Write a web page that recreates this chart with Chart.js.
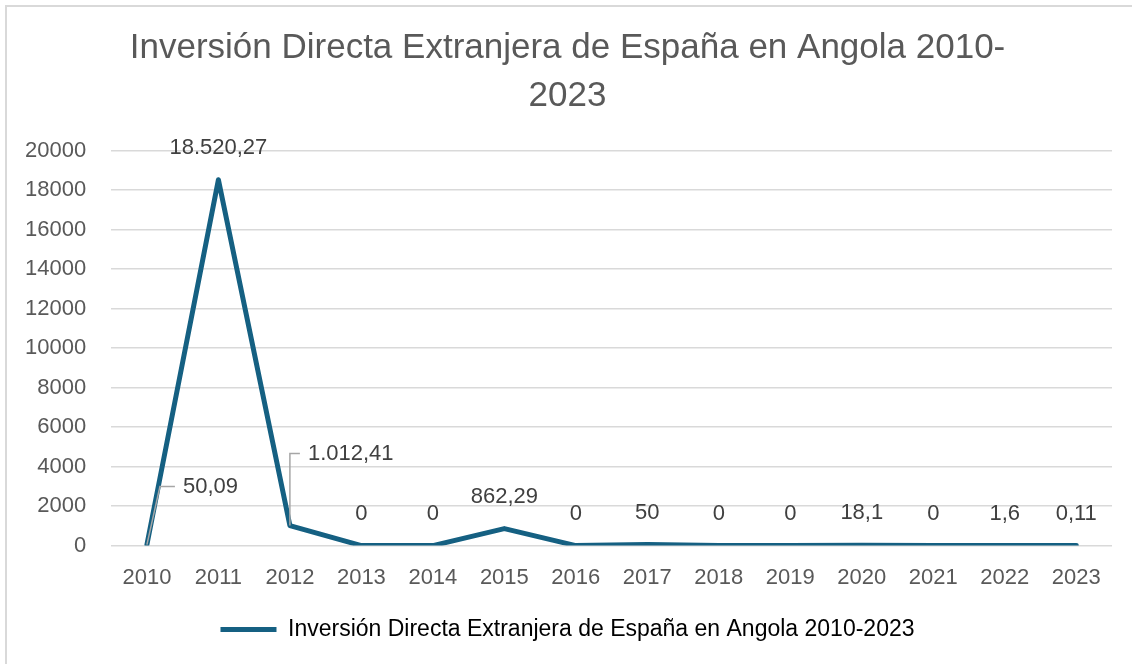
<!DOCTYPE html>
<html>
<head>
<meta charset="utf-8">
<script src="https://cdn.jsdelivr.net/npm/chart.js@4"></script>
<style>
  html, body { margin: 0; padding: 0; background: #fff; }
  #wrap { position: absolute; left: 5px; top: 5px; width: 1127px; height: 659px;
          border-left: 2px solid #d9d9d9; border-top: 2px solid #d9d9d9; box-sizing: border-box; }
  #chart { position: absolute; left: 0; top: 0; }
</style>
</head>
<body>
<div id="wrap"></div>
<canvas id="chart" width="1132" height="664"></canvas>
<script>
// Datos: IED de España en Angola (miles de euros)
const years  = ["2010", "2011", "2012", "2013", "2014", "2015", "2016", "2017", "2018", "2019", "2020", "2021", "2022", "2023"];
const values = [50.09, 18520.27, 1012.41, 0, 0, 862.29, 0, 50, 0, 0, 18.1, 0, 1.6, 0.11];
const labels = ["50,09", "18.520,27", "1.012,41", "0", "0", "862,29", "0", "50", "0", "0", "18,1", "0", "1,6", "0,11"];
const yTicks = [0, 2000, 4000, 6000, 8000, 10000, 12000, 14000, 16000, 18000, 20000];

const seriesName = "Inversión Directa Extranjera de España en Angola 2010-2023";
const lineColor = "#156082";
const textColor = "#595959";
const FONT = "'Liberation Sans', Arial, sans-serif";

// etiquetas de datos (con líneas guía para 2010 y 2012)
const dataLabels = {
  id: "dataLabels",
  afterDatasetsDraw(chart) {
    const ctx = chart.ctx;
    const pts = chart.getDatasetMeta(0).data;
    ctx.save();
    ctx.font = "22px " + FONT;
    ctx.fillStyle = "#404040";
    ctx.textBaseline = "middle";
    pts.forEach((p, i) => {
      if (i === 0) {
        ctx.strokeStyle = "#a6a6a6"; ctx.lineWidth = 1.5;
        ctx.beginPath(); ctx.moveTo(p.x, p.y); ctx.lineTo(p.x + 13, p.y - 58); ctx.lineTo(p.x + 28, p.y - 58); ctx.stroke();
        ctx.textAlign = "left"; ctx.fillText(labels[i], p.x + 36, p.y - 58);
      } else if (i === 2) {
        ctx.strokeStyle = "#a6a6a6"; ctx.lineWidth = 1.5;
        ctx.beginPath(); ctx.moveTo(p.x, p.y); ctx.lineTo(p.x, p.y - 72); ctx.lineTo(p.x + 10, p.y - 72); ctx.stroke();
        ctx.textAlign = "left"; ctx.fillText(labels[i], p.x + 18, p.y - 72);
      } else {
        ctx.textAlign = "center";
        ctx.fillText(labels[i], p.x, p.y - 32);
      }
    });
    ctx.restore();
  }
};

new Chart(document.getElementById("chart"), {
  type: "line",
  data: {
    labels: years,
    datasets: [{
      label: seriesName,
      data: values,
      borderColor: lineColor,
      backgroundColor: lineColor,
      borderWidth: 5,
      pointRadius: 0,
      tension: 0,
      borderJoinStyle: "round",
      borderCapStyle: "round"
    }]
  },
  options: {
    responsive: false,
    animation: false,
    layout: { padding: { left: 23, right: 20, top: 25, bottom: 13 } },
    plugins: {
      title: {
        display: true,
        text: ["Inversión Directa Extranjera de España en Angola 2010-", "2023"],
        color: textColor,
        font: { family: FONT, size: 35, weight: "normal", lineHeight: 1.35 },
        padding: { top: 0, bottom: 31 }
      },
      legend: {
        position: "bottom",
        labels: {
          color: textColor,
          font: { family: FONT, size: 23 },
          boxWidth: 56,
          boxHeight: 5,
          padding: 16,
          generateLabels(chart) {
            return [{ text: seriesName, fillStyle: lineColor, strokeStyle: lineColor, lineWidth: 0, datasetIndex: 0 }];
          }
        }
      },
      tooltip: { enabled: false }
    },
    scales: {
      x: {
        offset: true,
        grid: { display: false },
        border: { display: false },
        ticks: { color: textColor, font: { family: FONT, size: 22 }, padding: 11 }
      },
      y: {
        min: 0, max: 20000,
        afterBuildTicks(axis) { axis.ticks = yTicks.map(v => ({ value: v })); },
        afterFit(axis) { axis.width -= 23; },
        grid: { color: "#d9d9d9", lineWidth: 1.5, drawTicks: false },
        border: { display: false },
        ticks: { color: textColor, font: { family: FONT, size: 22 }, padding: 25, callback: v => String(v) }
      }
    }
  },
  plugins: [dataLabels]
});
</script>
</body>
</html>
